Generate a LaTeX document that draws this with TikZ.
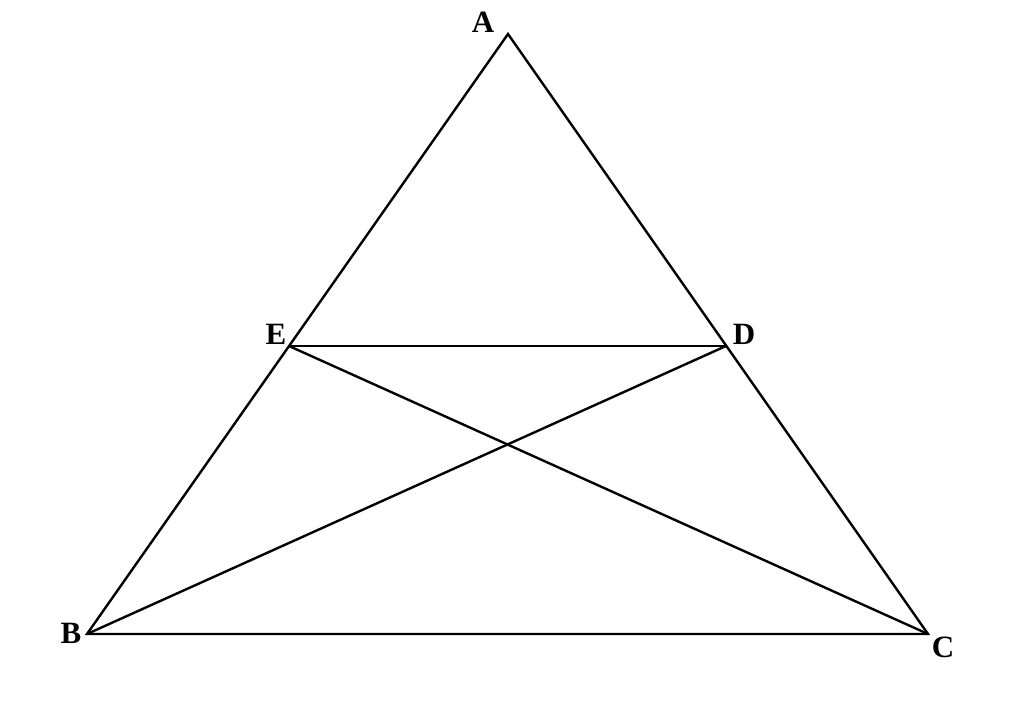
\documentclass[tikz,border=0pt]{standalone}
\usepackage{fontspec}
\setmainfont{Liberation Serif}
\begin{document}
\begin{tikzpicture}[x=1pt,y=-1pt,
  edge/.style={line width=2.4pt,line join=miter},
  lbl/.style={font=\fontsize{31}{36}\selectfont\bfseries,inner sep=0pt,anchor=center}]
\useasboundingbox (0,0) rectangle (1024,707);
\coordinate (A) at (508,34);
\coordinate (B) at (87,634);
\coordinate (C) at (928,634);
\coordinate (E) at (289,346);
\coordinate (D) at (726,346);
\draw[edge] (A) -- (B) -- (C) -- cycle;
\draw[edge] (E) -- (D);
\draw[edge] (E) -- (C);
\draw[edge] (D) -- (B);
\node[lbl] (la) at (483,22) {A};
\node[lbl] (lb) at (71,633) {B};
\node[lbl] (lc) at (943,647) {C};
\node[lbl] (le) at (276,334) {E};
\node[lbl] (ld) at (744,334) {D};
\end{tikzpicture}
\end{document}
